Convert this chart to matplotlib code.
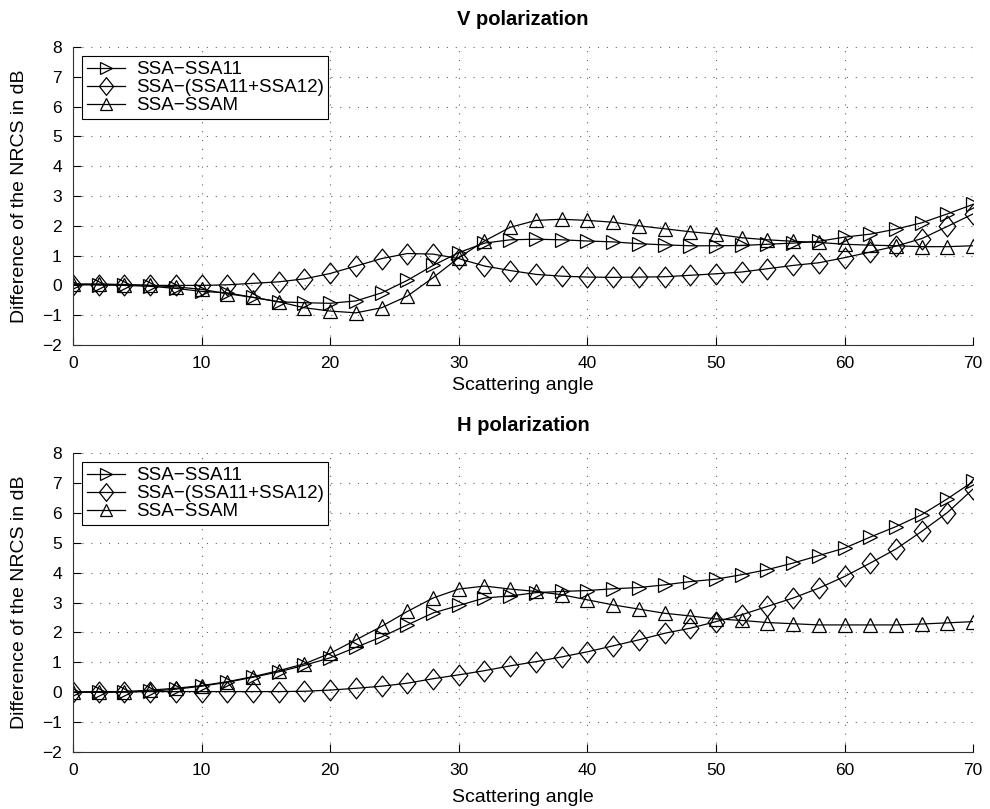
import numpy as np
import matplotlib
matplotlib.use('Agg')
import matplotlib.pyplot as plt
from matplotlib.path import Path

plt.rcParams['font.family'] = ['Liberation Sans', 'DejaVu Sans']

# Scattering angle
angle = list(range(0, 72, 2))

# V polarization
v_ssa11 = [0.03, 0.02, 0.0, -0.03, -0.1, -0.2, -0.25, -0.4, -0.55, -0.58, -0.6, -0.52,
           -0.25, 0.17, 0.67, 1.1, 1.42, 1.53, 1.55, 1.53, 1.49, 1.46, 1.4, 1.36,
           1.33, 1.33, 1.34, 1.38, 1.42, 1.48, 1.62, 1.72, 1.89, 2.1, 2.4, 2.72]
v_ssa12 = [0.03, 0.02, 0.02, 0.0, 0.0, 0.0, 0.02, 0.07, 0.12, 0.22, 0.4, 0.65,
           0.9, 1.07, 1.05, 0.9, 0.65, 0.5, 0.37, 0.31, 0.28, 0.27, 0.28, 0.29,
           0.34, 0.39, 0.45, 0.56, 0.67, 0.76, 0.93, 1.12, 1.32, 1.57, 1.98, 2.4]
v_ssam = [0.05, 0.05, 0.03, 0.0, -0.05, -0.13, -0.28, -0.4, -0.55, -0.75, -0.86, -0.92,
          -0.75, -0.36, 0.26, 0.93, 1.49, 1.95, 2.18, 2.22, 2.18, 2.12, 2.0, 1.9,
          1.8, 1.72, 1.6, 1.53, 1.48, 1.44, 1.38, 1.35, 1.33, 1.3, 1.3, 1.33]

# H polarization
h_ssa11 = [0.0, 0.0, 0.0, 0.03, 0.1, 0.2, 0.33, 0.5, 0.68, 0.9, 1.15, 1.5,
           1.85, 2.25, 2.65, 2.9, 3.15, 3.22, 3.33, 3.37, 3.4, 3.46, 3.5, 3.59,
           3.7, 3.78, 3.93, 4.1, 4.32, 4.57, 4.82, 5.19, 5.54, 5.94, 6.47, 7.05]
h_ssa12 = [0.0, 0.02, 0.02, 0.02, 0.02, 0.02, 0.02, 0.02, 0.02, 0.03, 0.07, 0.13,
           0.2, 0.3, 0.45, 0.58, 0.72, 0.88, 1.02, 1.18, 1.35, 1.55, 1.75, 1.97,
           2.14, 2.36, 2.59, 2.87, 3.15, 3.48, 3.87, 4.32, 4.79, 5.38, 6.01, 6.8]
h_ssam = [0.0, 0.0, 0.02, 0.07, 0.13, 0.22, 0.35, 0.52, 0.72, 0.95, 1.3, 1.75,
          2.2, 2.7, 3.15, 3.45, 3.55, 3.45, 3.37, 3.26, 3.09, 2.92, 2.78, 2.64,
          2.55, 2.45, 2.4, 2.33, 2.29, 2.25, 2.25, 2.25, 2.25, 2.28, 2.32, 2.36]

labels = ['SSA\u2212SSA11', 'SSA\u2212(SSA11+SSA12)', 'SSA\u2212SSAM']

# matlab-like diamond: a bit taller than wide
diamond = Path([(0, 1), (0.8, 0), (0, -1), (-0.8, 0), (0, 1)],
               [Path.MOVETO, Path.LINETO, Path.LINETO, Path.LINETO, Path.CLOSEPOLY])
markers = ['>', diamond, '^']
msizes = [9.5, 15, 9.5]

fig = plt.figure(figsize=(9.9, 8.09), dpi=100)
ax1 = fig.add_axes([0.0737, 0.5735, 0.9093, 0.3685])
ax2 = fig.add_axes([0.0737, 0.0705, 0.9093, 0.3695])

panels = [(ax1, 'V polarization', [v_ssa11, v_ssa12, v_ssam], 4),
          (ax2, 'H polarization', [h_ssa11, h_ssa12, h_ssam], 8)]

for ax, title, series, xpad in panels:
    for vals, lab, mk, ms in zip(series, labels, markers, msizes):
        ax.plot(angle, vals, color='black', lw=0.9, marker=mk, ms=ms,
                mfc='none', mec='black', mew=0.9, label=lab)
    ax.set_xlim(0, 70)
    ax.set_ylim(-2, 8)
    ax.set_xticks(range(0, 71, 10))
    ax.set_yticks(range(-2, 9))
    ax.grid(True, linestyle=(0, (1, 7)), color='#666666', lw=0.8)
    ax.spines['top'].set_visible(False)
    ax.spines['right'].set_visible(False)
    ax.spines['left'].set_color('#333333')
    ax.spines['bottom'].set_color('#333333')
    ax.tick_params(direction='in', length=6, labelsize=12.5, pad=8)
    ax.set_title(title, fontsize=14.5, fontweight='bold', pad=16)
    ax.set_xlabel('Scattering angle', fontsize=14, labelpad=xpad)
    ax.set_ylabel('Difference of the NRCS in dB', fontsize=14, labelpad=10)
    leg = ax.legend(loc='upper left', fontsize=13.5, fancybox=False, framealpha=1,
                    edgecolor='black', borderaxespad=0.5, handlelength=2.0,
                    labelspacing=0.05, borderpad=0.25, markerscale=0.85,
                    handletextpad=0.6)
    leg.get_frame().set_linewidth(0.8)

fig.savefig('out.png', dpi=100)
